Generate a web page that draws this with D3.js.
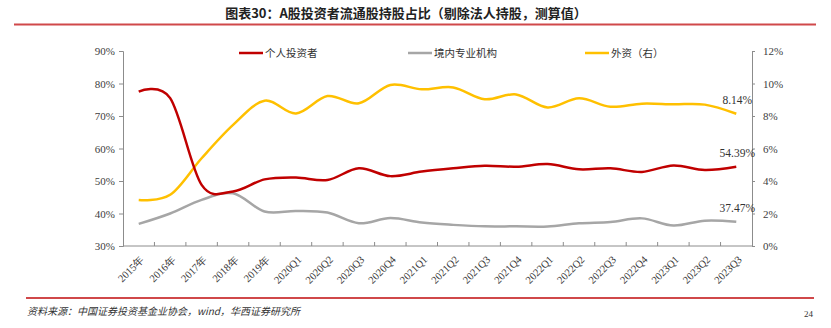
<!DOCTYPE html>
<html>
<head>
<meta charset="utf-8">
<script src="https://cdnjs.cloudflare.com/ajax/libs/d3/7.8.5/d3.min.js"></script>
<style>
  html, body { margin: 0; padding: 0; background: #fff; }
  svg { display: block; }
  .tick text { font-family: "Liberation Serif", "DejaVu Serif", serif; fill: #404040; }
</style>
</head>
<body>
<svg id="chart" width="831" height="328"></svg>
<script>
// Periods on the x axis
const categories = [
  "2015年", "2016年", "2017年", "2018年", "2019年",
  "2020Q1", "2020Q2", "2020Q3", "2020Q4",
  "2021Q1", "2021Q2", "2021Q3", "2021Q4",
  "2022Q1", "2022Q2", "2022Q3", "2022Q4",
  "2023Q1", "2023Q2", "2023Q3"
];

// Share of free-float holdings (%), left axis
const individual = [77.5, 75.5, 48.8, 46.8, 50.5, 51.1, 50.3, 53.9, 51.5, 52.9,
                    53.9, 54.7, 54.4, 55.2, 53.6, 53.9, 52.8, 54.8, 53.4, 54.39];
const domesticInst = [36.8, 40.0, 44.2, 46.2, 40.6, 40.8, 40.3, 37.0, 38.6, 37.2,
                      36.5, 36.05, 36.05, 36.0, 37.0, 37.4, 38.5, 36.3, 37.8, 37.47];
// Foreign investors (%), right axis
const foreign = [2.83, 3.15, 5.40, 7.45, 8.94, 8.16, 9.23, 8.78, 9.91, 9.64,
                 9.76, 9.03, 9.33, 8.53, 9.09, 8.57, 8.76, 8.72, 8.70, 8.14];

const leftTicks = [30, 40, 50, 60, 70, 80, 90];
const rightTicks = [0, 2, 4, 6, 8, 10, 12];

const seriesNames = ["个人投资者", "境内专业机构", "外资（右）"];
const titleText = "图表30：A股投资者流通股持股占比（剔除法人持股，测算值）";
const sourceText = "资料来源：中国证券投资基金业协会，wind，华西证券研究所";
const pageNo = "24";

const colors = { red: "#c00000", gray: "#a6a6a6", yellow: "#ffc000", rule: "#d0484a" };
const cjk = "'Noto Sans CJK SC', sans-serif";

const svg = d3.select("#chart");
const plot = { left: 123, right: 752, top: 51, bottom: 246 };

const x = d3.scaleBand().domain(categories).range([plot.left, plot.right]).padding(0);
const cx = c => x(c) + x.bandwidth() / 2;
const yL = d3.scaleLinear().domain([30, 90]).range([plot.bottom, plot.top]);
const yR = d3.scaleLinear().domain([0, 12]).range([plot.bottom, plot.top]);

// Title and rules
svg.append("text")
  .attr("x", 406).attr("y", 18)
  .attr("text-anchor", "middle")
  .attr("font-family", cjk).attr("font-weight", "bold")
  .attr("font-size", 13).attr("fill", "#222")
  .text(titleText);
svg.append("line").attr("x1", 14).attr("x2", 816).attr("y1", 24.5).attr("y2", 24.5)
  .attr("stroke", colors.rule).attr("stroke-width", 2);
svg.append("line").attr("x1", 26).attr("x2", 814).attr("y1", 298).attr("y2", 298)
  .attr("stroke", colors.rule).attr("stroke-width", 2);

// Left axis
const axL = svg.append("g").attr("transform", `translate(${plot.left},0)`)
  .call(d3.axisLeft(yL).tickValues(leftTicks).tickFormat(d => d + "%").tickSizeOuter(0).tickSize(4).tickPadding(4));
// Right axis
const axR = svg.append("g").attr("transform", `translate(${plot.right},0)`)
  .call(d3.axisRight(yR).tickValues(rightTicks).tickFormat(d => d + "%").tickSizeOuter(0).tickSize(3).tickPadding(8));
[axL, axR].forEach(g => {
  g.selectAll(".domain, .tick line").attr("stroke", "#8c8c8c");
  g.selectAll(".tick text").attr("font-size", 11);
});

// Bottom axis: baseline with inward ticks at period boundaries
const axB = svg.append("g");
axB.append("line").attr("x1", plot.left).attr("x2", plot.right)
  .attr("y1", plot.bottom).attr("y2", plot.bottom).attr("stroke", "#8c8c8c");
axB.selectAll("line.tk").data(categories.slice(1)).join("line").attr("class", "tk")
  .attr("x1", d => x(d)).attr("x2", d => x(d))
  .attr("y1", plot.bottom).attr("y2", plot.bottom - 4).attr("stroke", "#8c8c8c");
axB.selectAll("text").data(categories).join("text")
  .attr("transform", d => `translate(${cx(d) + 1},${plot.bottom + 9}) rotate(-45)`)
  .attr("text-anchor", "end").attr("dy", "0.7em")
  .attr("font-family", "'Liberation Serif', serif").attr("font-size", 10.5).attr("fill", "#333")
  .text(d => d);

// Smoothed series lines (uniform Catmull-Rom, passes through every point)
const smooth = d3.curveCardinal.tension(0);
const lineL = d3.line().x((d, i) => cx(categories[i])).y(d => yL(d)).curve(smooth);
const lineR = d3.line().x((d, i) => cx(categories[i])).y(d => yR(d)).curve(smooth);

svg.append("path").datum(domesticInst).attr("d", lineL)
  .attr("fill", "none").attr("stroke", colors.gray).attr("stroke-width", 2.5);
svg.append("path").datum(foreign).attr("d", lineR)
  .attr("fill", "none").attr("stroke", colors.yellow).attr("stroke-width", 2.5);
svg.append("path").datum(individual).attr("d", lineL)
  .attr("fill", "none").attr("stroke", colors.red).attr("stroke-width", 2.5);

// Latest-value labels
const last = categories.length - 1;
const endLabels = [
  { y: yR(foreign[last]), txt: foreign[last].toFixed(2) + "%" },
  { y: yL(individual[last]), txt: individual[last].toFixed(2) + "%" },
  { y: yL(domesticInst[last]), txt: domesticInst[last].toFixed(2) + "%" }
];
svg.selectAll("text.endlbl").data(endLabels).join("text").attr("class", "endlbl")
  .attr("x", cx(categories[last]) + 1).attr("y", d => d.y - 10)
  .attr("text-anchor", "middle")
  .attr("font-family", "'Liberation Serif', serif").attr("font-size", 11.5).attr("fill", "#333")
  .text(d => d.txt);

// Legend
const legend = [
  { name: seriesNames[0], color: colors.red, x: 239 },
  { name: seriesNames[1], color: colors.gray, x: 408 },
  { name: seriesNames[2], color: colors.yellow, x: 585 }
];
const lg = svg.selectAll("g.lg").data(legend).join("g").attr("class", "lg")
  .attr("transform", d => `translate(${d.x},53)`);
lg.append("line").attr("x1", 0).attr("x2", 24).attr("stroke", d => d.color).attr("stroke-width", 2.5);
lg.append("text").attr("x", 26).attr("dy", "0.36em")
  .attr("font-family", cjk).attr("font-size", 10.5).attr("fill", "#333")
  .text(d => d.name);

// Source note and page number
svg.append("text").attr("x", 27).attr("y", 315)
  .attr("font-family", cjk).attr("font-size", 10).attr("font-style", "italic").attr("fill", "#333")
  .text(sourceText);
svg.append("text").attr("x", 813).attr("y", 317).attr("text-anchor", "end")
  .attr("font-family", "'Liberation Serif', serif").attr("font-size", 9).attr("fill", "#333")
  .text(pageNo);
</script>
</body>
</html>
